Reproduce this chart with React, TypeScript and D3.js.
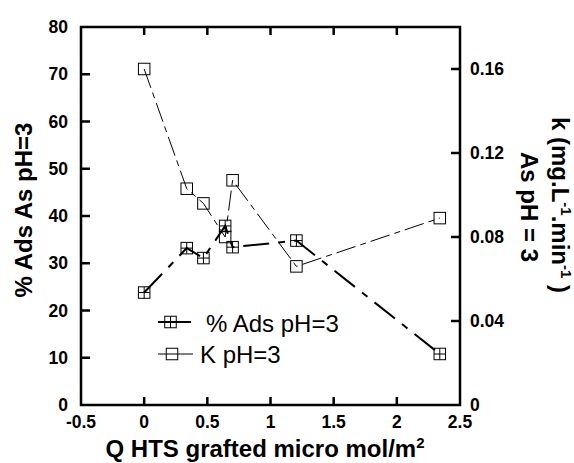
import React from "react";
import * as d3 from "d3";

const xVals = [0, 0.337, 0.469, 0.641, 0.7, 1.205, 2.34];
const adsVals = [23.8, 33.2, 31.1, 37.9, 33.4, 34.8, 10.8];
const kVals = [0.16, 0.103, 0.096, 0.08, 0.107, 0.066, 0.089];
const xTicks = [-0.5, 0, 0.5, 1, 1.5, 2, 2.5];
const yLeftTicks = [0, 10, 20, 30, 40, 50, 60, 70, 80];
const yRightTicks = [0, 0.04, 0.08, 0.12, 0.16];
const seriesNames = ["% Ads pH=3", "K pH=3"];

const W = 574;
const H = 463;
const FONT = "'Liberation Sans', Arial, Helvetica, sans-serif";

const x = d3.scaleLinear().domain([-0.5, 2.5]).range([81, 460]);
const yL = d3.scaleLinear().domain([0, 80]).range([405, 27]);
const yR = d3.scaleLinear().domain([0, 0.18]).range([405, 27]);

const MS = 11.5;

function Crossed({ cx, cy }: { cx: number; cy: number }) {
  const h = MS / 2;
  return (
    <g stroke="#000" strokeWidth={1} fill="none">
      <rect x={cx - h} y={cy - h} width={MS} height={MS} />
      <line x1={cx} x2={cx} y1={cy - h} y2={cy + h} />
      <line x1={cx - h} x2={cx + h} y1={cy} y2={cy} />
    </g>
  );
}

function Open({ cx, cy }: { cx: number; cy: number }) {
  const h = MS / 2;
  return (
    <rect x={cx - h} y={cy - h} width={MS} height={MS} stroke="#000" strokeWidth={1} fill="none" />
  );
}

export default function App() {
  const adsData = xVals.map((v, i) => [v, adsVals[i]] as [number, number]);
  const kData = xVals.map((v, i) => [v, kVals[i]] as [number, number]);
  const adsLine = d3
    .line<[number, number]>()
    .x((d) => x(d[0]))
    .y((d) => yL(d[1]));
  const kLine = d3
    .line<[number, number]>()
    .x((d) => x(d[0]))
    .y((d) => yR(d[1]));

  const tickFs = 17.5;
  const axisW = 2.5;

  return (
    <svg
      width={W}
      height={H}
      style={{ position: "absolute", left: 0, top: 0, background: "#fff" }}
      fontFamily={FONT}
    >
      <rect x={0} y={0} width={W} height={H} fill="#fff" />

      {/* series lines */}
      <path
        d={kLine(kData) || ""}
        fill="none"
        stroke="#000"
        strokeWidth={1}
        strokeDasharray="20,5,6,5"
      />
      <path
        d={adsLine(adsData) || ""}
        fill="none"
        stroke="#000"
        strokeWidth={2}
        strokeDasharray="26,9,7,9"
      />

      {/* markers */}
      {kData.map((d, i) => (
        <Open key={"k" + i} cx={x(d[0])} cy={yR(d[1])} />
      ))}
      {adsData.map((d, i) => (
        <Crossed key={"a" + i} cx={x(d[0])} cy={yL(d[1])} />
      ))}

      {/* axes box */}
      <rect
        x={x(-0.5)}
        y={yL(80)}
        width={x(2.5) - x(-0.5)}
        height={yL(0) - yL(80)}
        fill="none"
        stroke="#000"
        strokeWidth={axisW}
      />

      {/* x ticks */}
      {xTicks.slice(1, -1).map((t) => (
        <g key={"xt" + t} stroke="#000" strokeWidth={axisW}>
          <line x1={x(t)} x2={x(t)} y1={yL(0)} y2={yL(0) - 8} />
          <line x1={x(t)} x2={x(t)} y1={yL(80)} y2={yL(80) + 8} />
        </g>
      ))}
      {xTicks.map((t) => (
        <text
          key={"xl" + t}
          x={x(t)}
          y={428}
          textAnchor="middle"
          fontSize={tickFs}
          fontWeight="bold"
        >
          {String(t)}
        </text>
      ))}

      {/* left ticks */}
      {yLeftTicks.slice(1, -1).map((t) => (
        <line
          key={"ylt" + t}
          x1={x(-0.5)}
          x2={x(-0.5) + 9}
          y1={yL(t)}
          y2={yL(t)}
          stroke="#000"
          strokeWidth={axisW}
        />
      ))}
      {yLeftTicks.map((t) => (
        <text
          key={"yll" + t}
          x={68}
          y={yL(t) + 6}
          textAnchor="end"
          fontSize={tickFs}
          fontWeight="bold"
        >
          {String(t)}
        </text>
      ))}

      {/* right ticks */}
      {yRightTicks.slice(1).map((t) => (
        <line
          key={"yrt" + t}
          x1={x(2.5)}
          x2={x(2.5) - 9}
          y1={yR(t)}
          y2={yR(t)}
          stroke="#000"
          strokeWidth={axisW}
        />
      ))}
      {yRightTicks.map((t) => (
        <text
          key={"yrl" + t}
          x={470}
          y={yR(t) + 6}
          textAnchor="start"
          fontSize={tickFs}
          fontWeight="bold"
        >
          {String(t)}
        </text>
      ))}

      {/* axis titles */}
      <text x={265} y={457} textAnchor="middle" fontSize={24} fontWeight="bold">
        Q HTS grafted micro mol/m
        <tspan fontSize={15} dy={-9}>
          2
        </tspan>
      </text>
      <text
        transform="translate(32,210) rotate(-90)"
        textAnchor="middle"
        fontSize={24}
        fontWeight="bold"
      >
        % Ads As pH=3
      </text>
      <text
        transform="translate(552,205) rotate(90)"
        textAnchor="middle"
        fontSize={24}
        fontWeight="bold"
      >
        k (mg.L
        <tspan fontSize={15} dy={-9}>
          -1
        </tspan>
        <tspan dy={9}>.min</tspan>
        <tspan fontSize={15} dy={-9}>
          -1
        </tspan>
        <tspan dy={9}> )</tspan>
      </text>
      <text
        transform="translate(521,207) rotate(90)"
        textAnchor="middle"
        fontSize={24}
        fontWeight="bold"
      >
        As pH = 3
      </text>

      {/* legend */}
      <line x1={158} x2={191} y1={322} y2={322} stroke="#000" strokeWidth={2} />
      <Crossed cx={170.5} cy={322} />
      <text x={206} y={332} fontSize={24}>
        {seriesNames[0]}
      </text>
      <line x1={158} x2={193} y1={354} y2={354} stroke="#000" strokeWidth={1} />
      <Open cx={172} cy={354} />
      <text x={200} y={363} fontSize={24}>
        {seriesNames[1]}
      </text>
    </svg>
  );
}
